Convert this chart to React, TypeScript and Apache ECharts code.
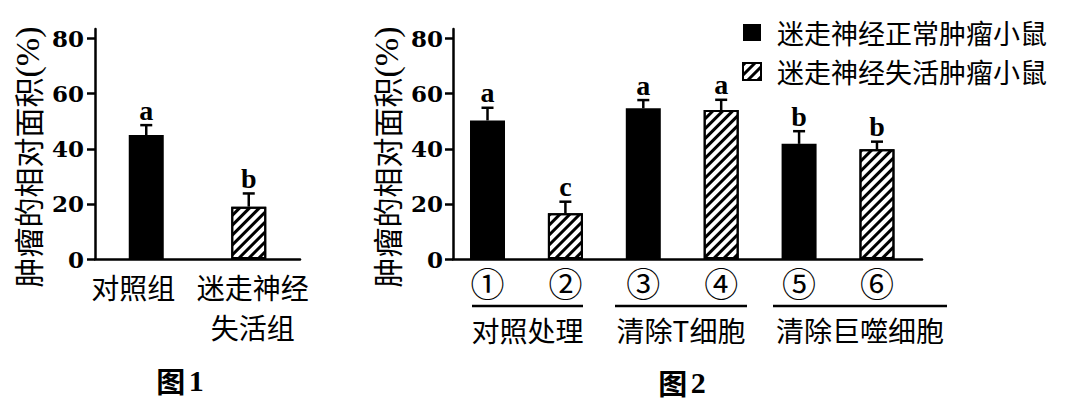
import React, { useEffect, useRef } from 'react';
import * as echarts from 'echarts';

// 图1
const fig1Categories = ['对照组', '迷走神经\n失活组'];
const fig1Values = [45, 19];
const fig1ErrorTop = [48.6, 23.8];
const fig1Letters = ['a', 'b'];

// 图2
const fig2Labels = ['①', '②', '③', '④', '⑤', '⑥'];
const fig2Values = [50.3, 16.6, 54.7, 54.1, 41.8, 39.8];
const fig2ErrorTop = [54.9, 20.8, 57.7, 57.8, 46.4, 42.6];
const fig2Letters = ['a', 'c', 'a', 'a', 'b', 'b'];
const fig2Groups = ['对照处理', '清除T细胞', '清除巨噬细胞'];

const seriesNames = ['迷走神经正常肿瘤小鼠', '迷走神经失活肿瘤小鼠'];
const yTicks = [0, 20, 40, 60, 80];
const yTitle = '肿瘤的相对面积';

const CJK = '"Noto Sans CJK SC", sans-serif';
const SERIF = '"DejaVu Serif", serif';
const LW = 2.5;

const hatchStyle = {
  color: '#fff',
  borderColor: '#000',
  borderWidth: 2,
  decal: {
    symbol: 'rect',
    symbolSize: 1,
    dashArrayX: [1, 0],
    dashArrayY: [2.5, 3.5],
    rotation: -Math.PI / 4,
    color: '#000',
  },
};
const solidStyle = { color: '#000' };

const errorRender = (letters: string[]) => (params: any, api: any) => {
  const base = api.coord([api.value(0), api.value(1)]);
  const top = api.coord([api.value(0), api.value(2)]);
  const x = base[0];
  const line = { stroke: '#000', lineWidth: LW };
  return {
    type: 'group',
    children: [
      { type: 'line', shape: { x1: x, y1: base[1], x2: x, y2: top[1] }, style: line },
      { type: 'line', shape: { x1: x - 6, y1: top[1], x2: x + 6, y2: top[1] }, style: line },
      {
        type: 'text',
        x,
        y: top[1] - 1,
        style: {
          text: letters[params.dataIndex],
          align: 'center',
          verticalAlign: 'bottom',
          font: 'bold 28px "Liberation Serif"',
          fill: '#000',
        },
      },
    ],
  };
};

const yAxisBase = (gridIndex: number, margin: number) => ({
  type: 'value' as const,
  gridIndex,
  min: 0,
  max: 83.5,
  interval: 20,
  axisLine: { show: true, onZero: false, lineStyle: { color: '#000', width: LW } },
  axisTick: { show: true, length: 8, customValues: yTicks, lineStyle: { color: '#000', width: LW } },
  axisLabel: {
    customValues: yTicks,
    margin,
    color: '#000',
    fontSize: 23,
    fontWeight: 'bold' as const,
    fontFamily: SERIF,
  },
  splitLine: { show: false },
});

const yTitleText = (x: number) => ({
  type: 'text',
  x,
  y: 157,
  rotation: Math.PI / 2,
  style: {
    text: `{c|${yTitle}}{s|(%)}`,
    align: 'center',
    verticalAlign: 'middle',
    fill: '#000',
    rich: {
      c: { fontSize: 30, fontFamily: CJK, fill: '#000' },
      s: { fontSize: 34, fontFamily: '"Liberation Serif"', fill: '#000' },
    },
  },
});

const caption = (x: number, y: number, n: string) => ({
  type: 'text',
  x,
  y,
  style: {
    text: `{c|图} {n|${n}}`,
    align: 'center',
    verticalAlign: 'middle',
    rich: {
      c: { fontSize: 29, fontWeight: 'bold', fontFamily: CJK, fill: '#000' },
      n: { fontSize: 30, fontWeight: 'bold', fontFamily: '"Liberation Serif"', fill: '#000' },
    },
  },
});

const groupLines = [
  [472, 583],
  [615, 747],
  [773, 947],
];

const App: React.FC = () => {
  const chartRef = useRef<HTMLDivElement | null>(null);

  useEffect(() => {
    if (!chartRef.current) return;
    const chart = echarts.init(chartRef.current, undefined, { renderer: 'svg' });

    const fig2Idx = fig2Values.map((_, i) => i);
    // the two labels of 图1 are not quite centred under their bars
    const fig1LabelPad = [
      [0, 26, 0, 0],
      [0, 0, 0, 8],
    ];

    const option: echarts.EChartsOption = {
      animation: false,
      legend: {
        data: seriesNames,
        orient: 'vertical',
        left: 737,
        top: 8,
        icon: 'rect',
        itemWidth: 18,
        itemHeight: 17,
        itemGap: 0,
        selectedMode: false,
        textStyle: {
          fontSize: 27,
          fontFamily: CJK,
          color: '#000',
          lineHeight: 39,
          padding: [0, 0, 0, 11],
        },
      },
      grid: [
        { left: 95, top: 29, width: 205, height: 230 },
        { left: 453, top: 29, width: 469, height: 230 },
      ],
      xAxis: [
        {
          type: 'category',
          gridIndex: 0,
          data: fig1Categories.map((c, i) => ({
            value: c,
            textStyle: { padding: fig1LabelPad[i] },
          })) as any,
          axisLine: { lineStyle: { color: '#000', width: LW } },
          axisTick: { show: false },
          axisLabel: {
            interval: 0,
            margin: 8,
            color: '#000',
            fontSize: 28,
            lineHeight: 40,
            fontFamily: CJK,
          },
        },
        {
          type: 'value',
          gridIndex: 1,
          min: -0.443,
          max: 5.578,
          axisLine: { show: true, onZero: false, lineStyle: { color: '#000', width: LW } },
          axisTick: { show: false },
          splitLine: { show: false },
          axisLabel: {
            customValues: fig2Idx,
            formatter: (v: number) => fig2Labels[Math.round(v)],
            margin: 6,
            color: '#000',
            fontSize: 34,
            fontFamily: CJK,
          },
        },
      ],
      yAxis: [yAxisBase(0, 11), yAxisBase(1, 10)],
      series: [
        {
          name: seriesNames[0],
          type: 'bar',
          xAxisIndex: 0,
          yAxisIndex: 0,
          barWidth: 35,
          barGap: '-100%',
          itemStyle: solidStyle,
          data: fig1Values.map((v, i) => (i === 0 ? v : '-')),
        },
        {
          name: seriesNames[1],
          type: 'bar',
          xAxisIndex: 0,
          yAxisIndex: 0,
          barWidth: 35,
          barGap: '-100%',
          itemStyle: hatchStyle,
          data: fig1Values.map((v, i) => (i === 1 ? v : '-')),
        },
        {
          type: 'custom',
          xAxisIndex: 0,
          yAxisIndex: 0,
          z: 5,
          renderItem: errorRender(fig1Letters) as any,
          encode: { x: 0, y: 1 },
          data: fig1Values.map((v, i) => [i, v, fig1ErrorTop[i]]),
        },
        {
          name: seriesNames[0],
          type: 'bar',
          xAxisIndex: 1,
          yAxisIndex: 1,
          barWidth: 35,
          barGap: '-100%',
          itemStyle: solidStyle,
          data: fig2Idx.filter((i) => i % 2 === 0).map((i) => [i, fig2Values[i]]),
        },
        {
          name: seriesNames[1],
          type: 'bar',
          xAxisIndex: 1,
          yAxisIndex: 1,
          barWidth: 35,
          barGap: '-100%',
          itemStyle: hatchStyle,
          data: fig2Idx.filter((i) => i % 2 === 1).map((i) => [i, fig2Values[i]]),
        },
        {
          type: 'custom',
          xAxisIndex: 1,
          yAxisIndex: 1,
          z: 5,
          renderItem: errorRender(fig2Letters) as any,
          encode: { x: 0, y: 1 },
          data: fig2Values.map((v, i) => [i, v, fig2ErrorTop[i]]),
        },
      ],
      graphic: [
        yTitleText(27),
        yTitleText(386),
        ...groupLines.map(([a, b]) => ({
          type: 'line',
          shape: { x1: a, y1: 306, x2: b, y2: 306 },
          style: { stroke: '#000', lineWidth: LW },
        })),
        ...fig2Groups.map((g, i) => ({
          type: 'text',
          x: (groupLines[i][0] + groupLines[i][1]) / 2,
          y: 330,
          style: {
            text: g,
            align: 'center',
            verticalAlign: 'middle',
            font: `28px ${CJK}`,
            fill: '#000',
          },
        })),
        caption(180, 380, '1'),
        caption(682, 382, '2'),
      ] as any,
    };

    chart.setOption(option);
    return () => {
      chart.dispose();
    };
  }, []);

  return (
    <div
      ref={chartRef}
      style={{ position: 'absolute', left: 0, top: 0, width: 1080, height: 402 }}
    ></div>
  );
};

export default App;
